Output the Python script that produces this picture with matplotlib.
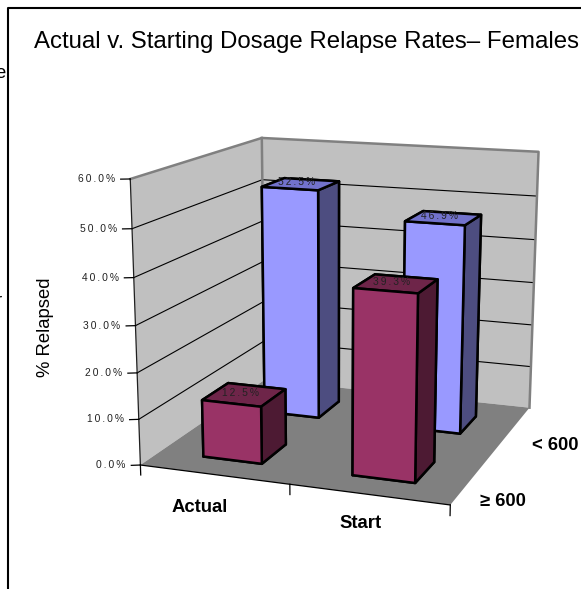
import numpy as np
import matplotlib
matplotlib.use('Agg')
import matplotlib.pyplot as plt
from mpl_toolkits.mplot3d.art3d import Poly3DCollection

plt.rcParams['font.family'] = ['Liberation Sans', 'DejaVu Sans']

# data
doses = ['Actual', 'Start']
groups = ['\u2265 600', '< 600']
back_row = [52.5, 46.9]
front_row = [12.5, 39.3]
ticks = [0, 10, 20, 30, 40, 50, 60]

W, H = 581, 589

# where the chart box corners sit in the picture (x, depth, value) -> pixel
world = [(0, 0, 0), (2, 0, 0), (2, 2, 0), (0, 2, 0), (0, 0, 60), (0, 2, 60), (2, 2, 60),
         (0, 0, 30), (2, 2, 30), (2, 2, 50), (2, 2, 10), (0, 0, 10)]
pix = [(141, 464), (449.5, 506), (530, 407), (264, 380.5), (130, 178), (262, 138), (539, 152),
       (135.6, 326), (534.5, 282), (536, 197), (531, 366), (139, 420)]


def fit_camera():
    rows = []
    for (a, b, c), (u, v) in zip(world, pix):
        c = c / 30.0
        u = u / 300.0
        v = (H - v) / 300.0
        rows.append([a, b, c, 1, 0, 0, 0, 0, -u * a, -u * b, -u * c, -u])
        rows.append([0, 0, 0, 0, a, b, c, 1, -v * a, -v * b, -v * c, -v])
    p = np.linalg.svd(np.array(rows))[2][-1].reshape(3, 4)
    if p[2] @ np.array([1, 1, 1, 1]) < 0:
        p = -p
    p[:2] *= 300.0
    p[:, 2] /= 30.0
    return p


P = fit_camera()

fig = plt.figure(figsize=(W / 100, H / 100), dpi=100)
ax = fig.add_axes([0, 0, 1, 1], projection='3d')
ax.set_axis_off()
ax.computed_zorder = False


def get_proj():
    q = ax.transData.inverted().get_matrix() @ P
    return np.array([q[0], q[1], [0, 0, 0, -1], q[2]])


ax.get_proj = get_proj


def px(x, y):
    return x / W, 1 - y / H


def spaced(v):
    return '\u2009'.join('%.1f%%' % v)


# small text placed at a point of the 3d box, dx/dy in pixels
def label3d(a, b, c, s, dx=0, dy=0, ha='center'):
    g = P @ np.array([a, b, c, 1])
    fig.text((g[0] / g[2] + dx) / W, (g[1] / g[2] + dy) / H, s, fontsize=7.4, ha=ha, va='center',
             color='#222222', zorder=20)


# walls and floor
ax.add_collection3d(Poly3DCollection([[(0, 0, 0), (0, 2, 0), (0, 2, 60), (0, 0, 60)],
                                      [(0, 2, 0), (2, 2, 0), (2, 2, 60), (0, 2, 60)]],
                                     facecolor='#c0c0c0', edgecolor='none', zorder=1))
ax.add_collection3d(Poly3DCollection([[(0, 0, 0), (2, 0, 0), (2, 2, 0), (0, 2, 0)]],
                                     facecolor='#808080', edgecolor='none', zorder=1.5))

for t in ticks[1:-1]:
    ax.plot([0, 0, 2], [0, 2, 2], [t, t, t], color='black', lw=0.8, zorder=2)
ax.plot([0, 0, 2, 2], [0, 2, 2, 2], [60, 60, 60, 0], color='#808080', lw=1.8, zorder=2.2)
ax.plot([0, 0], [2, 2], [0, 60], color='#808080', lw=1.8, zorder=2.2)

# axis lines and ticks
ax.plot([0, 0], [0, 0], [0, 60], color='#202020', lw=0.9, zorder=2.3)
ax.plot([0, 2], [0, 0], [0, 0], color='black', lw=0.9, zorder=2.3)
for t in ticks:
    ax.plot([-0.05, 0], [-0.025, 0], [t, t], color='black', lw=0.9, zorder=2.3)
    label3d(0, 0, t, spaced(t), dx=-15, ha='right')
for i in range(3):
    ax.plot([i, i], [0, 0], [0, -2.2], color='black', lw=0.9, zorder=2.3)

# bars, back row first
bw = 0.4
bd = 0.4
faces_blue = ['#9999ff', '#7272cc', '#9999ff', '#9999ff', '#4d4d80', '#4d4d80']
faces_red = ['#993366', '#6e2549', '#993366', '#993366', '#4d1a33', '#4d1a33']
z = 3
for vals, y0, cols in [(back_row, 1.48, faces_blue), (front_row, 0.48, faces_red)]:
    for i, v in enumerate(vals):
        ax.bar3d(i + 0.5 - bw / 2, y0 - bd / 2, 0, bw, bd, v, color=cols, shade=False,
                 edgecolor='black', linewidth=1.8, zorder=z)
        label3d(i + 0.5, y0, v, spaced(v), dx=-4, dy=2)
        z += 1

x0, y0 = px(46, 327)
fig.text(x0, y0, '% Relapsed', rotation=90, fontsize=13.3, ha='center', va='center')
x0, y0 = px(306.5, 42)
fig.text(x0, y0, 'Actual v. Starting Dosage Relapse Rates\u2013 Females', fontsize=17.3, ha='center', va='center')
for s, (a, b) in zip(doses + groups, [(200, 507), (360.5, 524), (503, 501), (555.5, 446)]):
    x0, y0 = px(a, b)
    fig.text(x0, y0, s, fontsize=13.3, fontweight='bold', ha='center', va='center')

# chart border and the bits of text cut off at the left
fig.add_artist(plt.Line2D([7.5 / W, 7.5 / W, 1], [0, 1 - 7.5 / H, 1 - 7.5 / H], color='black', lw=1.5))
x0, y0 = px(-5, 73)
fig.text(x0, y0, 'e', fontsize=13.3, va='center')
x0, y0 = px(-4, 301)
fig.text(x0, y0, 'r', fontsize=13.3, va='center')

fig.savefig('out.png', dpi=100)
